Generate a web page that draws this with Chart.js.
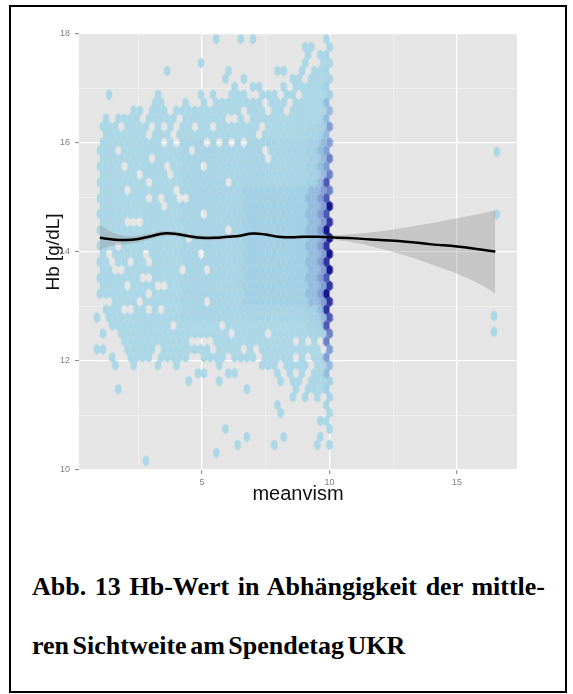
<!DOCTYPE html>
<html>
<head>
<meta charset="utf-8">
<script src="https://cdn.jsdelivr.net/npm/chart.js@4.4.0/dist/chart.umd.min.js"></script>
<style>
  html, body { margin: 0; padding: 0; background: #fff; }
  body { width: 573px; height: 694px; position: relative; overflow: hidden; }
  #frame { position: absolute; left: 9px; top: 5px; width: 558px; height: 688px; box-sizing: border-box; border: 2px solid #000; }
  #plot { position: absolute; left: 0; top: 0; filter: blur(0.4px); }
  .cap { position: absolute; left: 32px; font-family: 'Liberation Serif', 'Times New Roman', serif; font-weight: bold; font-size: 26px; line-height: 28px; word-spacing: -3px; color: #000; }
  #cap1 { top: 573px; width: 513px; text-align: justify; text-align-last: justify; }
  #cap2 { top: 632px; white-space: nowrap; }
</style>
</head>
<body>
<div id="frame"></div>
<canvas id="plot" width="573" height="520"></canvas>
<div class="cap" id="cap1">Abb. 13 Hb-Wert in Abhängigkeit der mittle-</div>
<div class="cap" id="cap2">ren Sichtweite am Spendetag UKR</div>
<script>
// hexbin cells, one string per hex row (bottom row first)
// '.' = empty, 1..9 = fill level (light blue -> dark blue)
// even rows start at x = 0.88, odd rows at x = 1.0, columns every 0.24
const hexRows = [
  '........1.' + '..........' + '..........' + '.........',
  '..........' + '.........1' + '..........' + '........',
  '..........' + '..........' + '...1.....1' + '......1.1',
  '..........' + '..........' + '....1.....' + '1.....1.',
  '..........' + '..........' + '.1........' + '........1',
  '..........' + '..........' + '..........' + '......11',
  '..........' + '..........' + '..........' + '1.......1',
  '..........' + '..........' + '.........1' + '.......2',
  '..........' + '..........' + '..........' + '..1.1.1.2',
  '...1......' + '..........' + '....1.....' + '..1.1113',
  '..........' + '.....1....' + '1.........' + '1.11.1113',
  '..........' + '......11..' + '.11......1' + '.1.1.114',
  '...1..1...' + '1..1......' + '1......111' + '.1111.114',
  '..1..1111.' + '11111..111' + '1.1111.111' + '11.1.115',
  '11...11111' + '.11111111.' + '1111.1.111' + '1111111.5',
  '....111111' + '11111....1' + '1111111111' + '11.1.1.6',
  '.1..111111' + '1111111111' + '11.11111.1' + '111112236',
  '..11111111' + '11.1111111' + '.111111111' + '11112237',
  '1.11111111' + '1111222222' + '2222222222' + '222223347',
  '.111..11.1' + '.111222222' + '2222222222' + '22223348',
  '...1111.11' + '11112222.2' + '2222333333' + '333334458',
  '11111111.1' + '1111222222' + '2222333333' + '33334459',
  '.1111.1111' + '..11222222' + '2222333333' + '333334458',
  '1111111..1' + '1111222222' + '2222333333' + '33334457',
  '.11..11111' + '1111.222.2' + '2222333333' + '333334459',
  '11.11.11.1' + '1111222222' + '2222333333' + '33334458',
  '.1.11111.1' + '1111222.22' + '2222333333' + '333334459',
  '111.111111' + '1111222222' + '2222333333' + '33334458',
  '.111111111' + '11112.2222' + '2222333333' + '333334459',
  '1111111111' + '1111222222' + '2.22333333' + '33334459',
  '.1111...11' + '1111222222' + '2222333333' + '333334458',
  '1111111111' + '1111222.22' + '2222333333' + '33334457',
  '.111111111' + '1.11222222' + '2222333333' + '333334459',
  '11111111.1' + '.11..22222' + '2222333333' + '33334457',
  '.1111.1111' + '111.222222' + '2222333333' + '333334456',
  '11111111.1' + '1111222222' + '2.22222222' + '22223347',
  '.111111.11' + '11.1222222' + '2222222222' + '222223346',
  '1111.11111' + '1.11222.22' + '2222222222' + '22223345',
  '.11111111.' + '1111222222' + '22222222.2' + '222223346',
  '111.111111' + '11112.2222' + '2222222.22' + '22223345',
  '.111111111' + '1.1.2222.2' + '.2.2.22222' + '222223345',
  '.1111111.1' + '11.1111111' + '111111.111' + '11112234',
  '.111.1111.' + '1.1.11.11.' + '1111111.11' + '111112235',
  '.1.1111.11' + '111.111111' + '1..1.11111' + '11111124',
  '......11.1' + '11.1111111' + '1111.111.1' + '1.1111114',
  '.........1' + '1...1..1.1' + '1111111.11' + '1.111114',
  '..1.......' + '1......1.1' + '..111..111' + '.11.11113',
  '..........' + '..........' + '..1..11...' + '1.111113',
  '..........' + '..........' + '.1..1.....' + '..11.1112',
  '..........' + '.1........' + '.1.......1' + '1..1.112',
  '..........' + '.......1..' + '..........' + '....1..11',
  '..........' + '..........' + '..........' + '....1.12',
  '..........' + '..........' + '..........' + '....11..1',
  '..........' + '.........1' + '...1.1....' + '.......1'
];
const rowStart = 10.169;
const rowStep = 0.146;
const colStartEven = 0.88;
const colStartOdd = 1.0;
const colStep = 0.24;

// the few hexes at meanvism ~ 16.5
const outlierX = [16.55, 16.55, 16.45, 16.45];
const outlierY = [15.84, 14.69, 12.83, 12.54];

// loess fit and its confidence band
const fitX = [1, 1.5, 2, 2.5, 3, 3.5, 4, 4.5, 5, 5.5, 6, 6.5, 7, 7.5, 8, 8.5, 9, 9.5, 10, 11, 12, 13, 14, 15, 16, 16.5];
const fitY = [14.26, 14.23, 14.22, 14.24, 14.29, 14.34, 14.33, 14.29, 14.26, 14.26, 14.28, 14.3, 14.34, 14.32, 14.28, 14.27, 14.28, 14.28, 14.27, 14.25, 14.22, 14.19, 14.14, 14.1, 14.04, 14.01];
const fitUpper = [14.5, 14.36, 14.3, 14.3, 14.34, 14.39, 14.37, 14.33, 14.3, 14.3, 14.31, 14.33, 14.37, 14.35, 14.31, 14.3, 14.31, 14.3, 14.3, 14.33, 14.38, 14.45, 14.53, 14.62, 14.71, 14.77];
const fitLower = [14.04, 14.12, 14.14, 14.18, 14.24, 14.29, 14.29, 14.25, 14.22, 14.22, 14.25, 14.27, 14.31, 14.29, 14.25, 14.24, 14.25, 14.26, 14.24, 14.17, 14.06, 13.93, 13.77, 13.6, 13.38, 13.24];

const levelColors = ['#abd7e6', '#a8d4e5', '#a3d0e4', '#95bcdf', '#7f9fd5', '#6b82c9', '#4f59b8', '#2f35a3', '#15188f'];

function hexSprite(color) {
  const cv = document.createElement('canvas');
  cv.width = 8;
  cv.height = 12;
  const g = cv.getContext('2d');
  const cx = 4, cy = 6, hw = 3.2, hh = 5.4;
  g.beginPath();
  g.moveTo(cx, cy - hh);
  g.lineTo(cx + hw, cy - hh / 2);
  g.lineTo(cx + hw, cy + hh / 2);
  g.lineTo(cx, cy + hh);
  g.lineTo(cx - hw, cy + hh / 2);
  g.lineTo(cx - hw, cy - hh / 2);
  g.closePath();
  g.fillStyle = color;
  g.fill();
  return cv;
}

const levelData = levelColors.map(() => []);
hexRows.forEach((row, r) => {
  const x0 = r % 2 === 0 ? colStartEven : colStartOdd;
  const y = rowStart + r * rowStep;
  for (let c = 0; c < row.length; c++) {
    const ch = row[c];
    if (ch === '.') continue;
    levelData[Number(ch) - 1].push({ x: x0 + c * colStep, y: y });
  }
});
outlierX.forEach((x, i) => levelData[0].push({ x: x, y: outlierY[i] }));

const hexSets = levelColors.map((col, i) => ({
  type: 'scatter',
  label: 'level' + (i + 1),
  data: levelData[i],
  pointStyle: hexSprite(col),
  pointRadius: 3,
  order: 12 - i
}));

const panelBg = {
  id: 'panelBg',
  beforeDraw(chart) {
    const { ctx, chartArea: a } = chart;
    ctx.save();
    ctx.fillStyle = '#e5e5e5';
    ctx.fillRect(a.left, a.top, a.right - a.left, a.bottom - a.top);
    ctx.restore();
  }
};

const sans = "'Liberation Sans', Arial, sans-serif";

new Chart(document.getElementById('plot'), {
  type: 'scatter',
  data: {
    datasets: [
      {
        type: 'line',
        label: 'fit',
        data: fitX.map((x, i) => ({ x: x, y: fitY[i] })),
        borderColor: '#000',
        borderWidth: 2.5,
        pointRadius: 0,
        tension: 0.4,
        fill: false,
        order: 0
      },
      {
        type: 'line',
        label: 'upper',
        data: fitX.map((x, i) => ({ x: x, y: fitUpper[i] })),
        borderWidth: 0,
        borderColor: 'rgba(0,0,0,0)',
        backgroundColor: 'rgba(153,153,153,0.4)',
        pointRadius: 0,
        tension: 0.4,
        fill: '+1',
        order: 1
      },
      {
        type: 'line',
        label: 'lower',
        data: fitX.map((x, i) => ({ x: x, y: fitLower[i] })),
        borderWidth: 0,
        borderColor: 'rgba(0,0,0,0)',
        pointRadius: 0,
        tension: 0.4,
        fill: false,
        order: 1
      }
    ].concat(hexSets)
  },
  options: {
    responsive: false,
    animation: false,
    devicePixelRatio: 1,
    events: [],
    layout: {
      autoPadding: false,
      padding: { left: 0, top: 34, right: 56, bottom: 0 }
    },
    plugins: {
      legend: { display: false },
      tooltip: { enabled: false }
    },
    scales: {
      x: {
        type: 'linear',
        min: 0.18,
        max: 17.35,
        afterFit(s) { s.height = 50 },
        border: { display: false },
        grid: {
          color: c => (c.tick && c.tick.value % 5 === 0) ? '#ffffff' : '#f2f2f2',
          lineWidth: c => (c.tick && c.tick.value % 5 === 0) ? 1.3 : 0.7,
          tickColor: c => (c.tick && c.tick.value % 5 === 0) ? '#7f7f7f' : 'rgba(0,0,0,0)',
          tickLength: 4,
          tickWidth: 1
        },
        ticks: {
          stepSize: 2.5,
          includeBounds: false,
          autoSkip: false,
          maxRotation: 0,
          padding: 3,
          color: '#7f7f7f',
          font: { family: sans, size: 9 },
          callback: v => v % 5 === 0 ? String(v) : ''
        },
        title: {
          display: true,
          text: 'meanvism',
          color: '#111',
          font: { family: sans, size: 20 },
          padding: { top: 0, bottom: 14 }
        }
      },
      y: {
        type: 'linear',
        min: 10,
        max: 18,
        afterFit(s) { s.width = 79 },
        border: { display: false },
        grid: {
          color: c => (c.tick && c.tick.value % 2 === 0) ? '#ffffff' : '#f2f2f2',
          lineWidth: c => (c.tick && c.tick.value % 2 === 0) ? 1.3 : 0.7,
          tickColor: c => (c.tick && c.tick.value % 2 === 0) ? '#7f7f7f' : 'rgba(0,0,0,0)',
          tickLength: 4,
          tickWidth: 1
        },
        ticks: {
          stepSize: 1,
          autoSkip: false,
          padding: 5,
          color: '#7f7f7f',
          font: { family: sans, size: 9 },
          callback: v => v % 2 === 0 ? String(v) : ''
        },
        title: {
          display: true,
          text: 'Hb [g/dL]',
          color: '#111',
          font: { family: sans, size: 19 },
          padding: { top: 42, bottom: 0 }
        }
      }
    }
  },
  plugins: [panelBg]
})
</script>
</body>
</html>
